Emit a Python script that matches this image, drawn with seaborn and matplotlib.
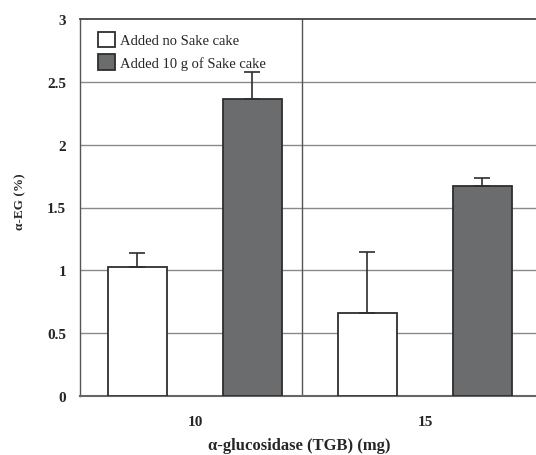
import matplotlib
matplotlib.use("Agg")
import matplotlib.pyplot as plt
import seaborn as sns
import pandas as pd
import numpy as np

categories = ["10", "15"]
series = ["Added no Sake cake", "Added 10 g of Sake cake"]
no_cake = [1.03, 0.66]
no_cake_err = [0.105, 0.485]
with_cake = [2.365, 1.673]
with_cake_err = [0.21, 0.058]
yticks = [0, 0.5, 1, 1.5, 2, 2.5, 3]
ytick_labels = ["0", "0.5", "1", "1.5", "2", "2.5", "3"]

df = pd.DataFrame({
    "dose": categories * 2,
    "group": [series[0]] * 2 + [series[1]] * 2,
    "value": no_cake + with_cake,
})

sns.set_style("white")
plt.rcParams["font.family"] = ["Liberation Serif", "DejaVu Serif"]

fig = plt.figure(figsize=(5.36, 4.56), dpi=100)
ax = fig.add_axes([80 / 536, 59 / 456, 1 - 80 / 536, 377 / 456])

palette = {series[0]: "#ffffff", series[1]: "#6b6c6e"}
sns.barplot(data=df, x="dose", y="value", hue="group", order=categories,
            hue_order=series, palette=palette, width=1.0, gap=0.48,
            edgecolor="#2e2e2e", linewidth=1.3, errorbar=None, ax=ax, zorder=3,
            saturation=1)

# error bars (upper only)
errs = no_cake_err + with_cake_err
vals = no_cake + with_cake
bars = [p for p in ax.patches if p.get_height() > 0][:4]
for p, v, e in zip(bars, vals, errs):
    xc = p.get_x() + p.get_width() / 2
    ax.errorbar([xc], [v], yerr=[[0], [e]], fmt="none", ecolor="#2e2e2e",
                elinewidth=1.2, capsize=6, capthick=1.2, zorder=4)

ax.set_ylim(0, 3)
ax.set_xlim(-0.5, 1.483)
ax.set_yticks(yticks)
ax.set_yticklabels(ytick_labels, fontweight="bold", fontsize=11)
ax.set_xticks([0, 1])
ax.set_xticklabels(categories, fontweight="bold", fontsize=11)
ax.tick_params(axis="y", length=0, pad=10)
ax.tick_params(axis="x", length=0, pad=14)
for y in yticks[1:-1]:
    ax.axhline(y, color="#8a8a8a", lw=1.0, zorder=1)
ax.axvline(0.465, color="#555555", lw=1.0, zorder=1)

ax.spines["right"].set_visible(False)
ax.spines["top"].set_color("#444444")
ax.spines["top"].set_linewidth(1.3)
ax.spines["left"].set_color("#555555")
ax.spines["left"].set_linewidth(1.0)
ax.spines["bottom"].set_color("#666666")
ax.spines["bottom"].set_linewidth(1.5)

ax.set_xlabel("α-glucosidase (TGB) (mg)", fontweight="bold", fontsize=12)
ax.xaxis.set_label_coords((299 - 80) / 456, -41 / 377)
ax.set_ylabel("α-EG (%)", fontweight="bold", fontsize=9.5)
ax.yaxis.set_label_coords(-54 / 456, (397 - 202) / 377)

leg = ax.legend(loc="upper left", bbox_to_anchor=(0.02, 0.99), frameon=False,
                fontsize=10.5, handlelength=1.2, handleheight=1.25,
                handletextpad=0.35, labelspacing=0.5, borderaxespad=0.2)
for h in leg.legend_handles:
    h.set_edgecolor("#2e2e2e")
    h.set_linewidth(1.3)

fig.savefig("out.png", dpi=100)
